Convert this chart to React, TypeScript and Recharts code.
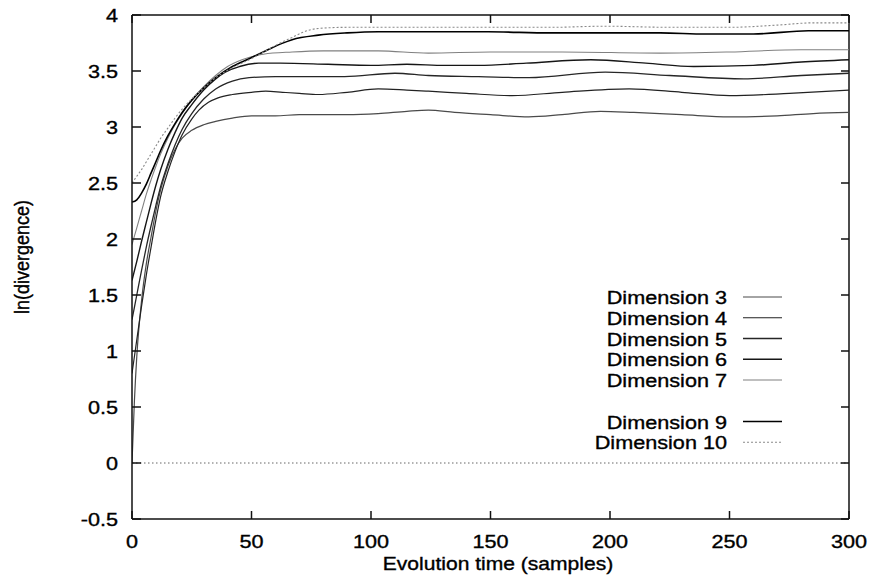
import React from 'react';
import { LineChart, Line, XAxis, YAxis, ReferenceLine } from 'recharts';

// ---- data -------------------------------------------------------------
const xTicks = [0, 50, 100, 150, 200, 250, 300];
const yTicks = [-0.5, 0, 0.5, 1, 1.5, 2, 2.5, 3, 3.5, 4];

// [evolution time (samples), ln(divergence)] for each embedding dimension
const dim3: [number, number][] = [
  [0, 0], [1, 0.55], [2, 0.95], [4, 1.45], [6, 1.78], [8, 2.02], [10, 2.25], [12, 2.44],
  [15, 2.65], [18, 2.8], [21, 2.9], [25, 2.97], [30, 3.02], [35, 3.05], [42, 3.08], [50, 3.1],
  [60, 3.1], [70, 3.11], [80, 3.11], [90, 3.11], [103, 3.12], [115, 3.14], [124, 3.15],
  [135, 3.13], [150, 3.11], [166, 3.09], [180, 3.11], [196, 3.14], [210, 3.13], [230, 3.11],
  [250, 3.09], [270, 3.1], [285, 3.12], [300, 3.13],
];
const dim4: [number, number][] = [
  [0, 0.8], [2, 1.1], [4, 1.4], [6, 1.68], [8, 1.93], [10, 2.17], [12, 2.38], [15, 2.6],
  [18, 2.78], [21, 2.93], [25, 3.07], [28, 3.15], [32, 3.22], [36, 3.26], [42, 3.29], [50, 3.31],
  [56, 3.32], [63, 3.31], [70, 3.3], [78, 3.29], [90, 3.31], [103, 3.34], [115, 3.33],
  [124, 3.32], [140, 3.3], [159, 3.28], [180, 3.31], [208, 3.34], [230, 3.31], [250, 3.28],
  [275, 3.3], [300, 3.33],
];
const dim5: [number, number][] = [
  [0, 1.28], [2, 1.5], [4, 1.72], [6, 1.93], [8, 2.12], [10, 2.3], [12, 2.47], [15, 2.67],
  [18, 2.84], [21, 2.98], [25, 3.12], [30, 3.25], [35, 3.34], [42, 3.41], [49, 3.44], [60, 3.45],
  [75, 3.45], [89, 3.45], [110, 3.48], [124, 3.46], [145, 3.45], [166, 3.44], [198, 3.49],
  [225, 3.46], [256, 3.43], [280, 3.46], [300, 3.48],
];
const dim6: [number, number][] = [
  [0, 1.63], [2, 1.8], [4, 1.98], [6, 2.15], [8, 2.32], [10, 2.48], [12, 2.62], [15, 2.8],
  [18, 2.95], [21, 3.08], [25, 3.2], [30, 3.33], [35, 3.43], [39, 3.49], [45, 3.54], [53, 3.57],
  [62, 3.57], [82, 3.56], [100, 3.55], [115, 3.56], [131, 3.55], [145, 3.55], [165, 3.57],
  [192, 3.6], [215, 3.57], [235, 3.54], [260, 3.55], [280, 3.58], [300, 3.6],
];
const dim7: [number, number][] = [
  [0, 1.95], [2, 2.1], [4, 2.25], [6, 2.4], [8, 2.53], [10, 2.65], [12, 2.76], [15, 2.9],
  [18, 3.02], [21, 3.12], [25, 3.24], [30, 3.36], [35, 3.46], [40, 3.54], [46, 3.6], [55, 3.65],
  [67, 3.67], [80, 3.68], [103, 3.68], [124, 3.66], [150, 3.67], [180, 3.67], [221, 3.66],
  [250, 3.67], [280, 3.69], [300, 3.69],
];
const dim9: [number, number][] = [
  [0, 2.33], [2, 2.35], [4, 2.41], [6, 2.49], [8, 2.59], [10, 2.69], [12, 2.79], [15, 2.92],
  [18, 3.03], [21, 3.13], [25, 3.24], [30, 3.35], [35, 3.44], [42, 3.54], [49, 3.61], [56, 3.68],
  [62, 3.74], [67, 3.78], [78, 3.82], [90, 3.84], [103, 3.85], [124, 3.85], [149, 3.85],
  [175, 3.84], [200, 3.84], [221, 3.84], [240, 3.83], [260, 3.83], [283, 3.86], [300, 3.86],
];
const dim10: [number, number][] = [
  [0, 2.5], [2, 2.56], [4, 2.62], [6, 2.69], [8, 2.76], [10, 2.83], [12, 2.9], [15, 2.99],
  [18, 3.08], [21, 3.16], [25, 3.25], [30, 3.35], [35, 3.44], [42, 3.53], [49, 3.6], [56, 3.68],
  [62, 3.75], [67, 3.8], [72, 3.85], [78, 3.88], [90, 3.89], [103, 3.89], [124, 3.89],
  [150, 3.89], [175, 3.89], [198, 3.9], [225, 3.89], [250, 3.89], [270, 3.91], [285, 3.93],
  [300, 3.93],
];

const seriesNames = [
  'Dimension 3', 'Dimension 4', 'Dimension 5', 'Dimension 6',
  'Dimension 7', 'Dimension 9', 'Dimension 10',
];
const seriesData = [dim3, dim4, dim5, dim6, dim7, dim9, dim10];

// ---- styling ----------------------------------------------------------
const seriesStyle = [
  { stroke: '#4a4a4a', width: 1.2, dash: undefined as string | undefined, row: 0 },
  { stroke: '#222', width: 1.2, dash: undefined, row: 1 },
  { stroke: '#262626', width: 1.3, dash: undefined, row: 2 },
  { stroke: '#161616', width: 1.4, dash: undefined, row: 3 },
  { stroke: '#808080', width: 1.1, dash: undefined, row: 4 },
  { stroke: '#000', width: 1.6, dash: undefined, row: 6 },
  { stroke: '#8a8a8a', width: 1.1, dash: '2 2', row: 7 },
];

const W = 871;
const H = 580;
const PLOT_LEFT = 132;
const PLOT_RIGHT = 849;
const PLOT_TOP = 15;
const PLOT_BOTTOM = 519;
const FONT = '"Liberation Sans", Arial, Helvetica, sans-serif';
const STRETCH = 1.17;
const INK = '#111';

type WideTextProps = {
  x: number;
  y: number;
  anchor: 'start' | 'middle' | 'end';
  size: number;
  rotate?: boolean;
  children: React.ReactNode;
};

// Helvetica-style text, slightly widened and inked
const WideText = ({ x, y, anchor, size, rotate, children }: WideTextProps) => {
  const transform = rotate
    ? `translate(${x},${y}) rotate(-90) scale(1,${STRETCH})`
    : `translate(${x},${y}) scale(${STRETCH},1)`;
  return (
    <text
      transform={transform}
      x={0}
      y={0}
      textAnchor={anchor}
      fontFamily={FONT}
      fontSize={size}
      fill="#000"
      stroke="#000"
      strokeWidth={0.35}
    >
      {children}
    </text>
  );
};

// y tick: label on the left, inward marks on both vertical borders
const YTick = (props: any) => {
  const { y, payload } = props;
  return (
    <g>
      <line x1={PLOT_LEFT} x2={PLOT_LEFT + 9} y1={y} y2={y} stroke={INK} strokeWidth={1.5} />
      <line x1={PLOT_RIGHT - 8} x2={PLOT_RIGHT} y1={y} y2={y} stroke={INK} strokeWidth={1.5} />
      <WideText x={PLOT_LEFT - 14} y={y + 6.5} anchor="end" size={18.5}>
        {String(payload.value)}
      </WideText>
    </g>
  );
};

// x tick: label below, inward marks on both horizontal borders
const XTick = (props: any) => {
  const { x, payload } = props;
  return (
    <g>
      <line x1={x} x2={x} y1={PLOT_BOTTOM} y2={PLOT_BOTTOM - 8} stroke={INK} strokeWidth={1.5} />
      <line x1={x} x2={x} y1={PLOT_TOP} y2={PLOT_TOP + 8} stroke={INK} strokeWidth={1.5} />
      <WideText x={x} y={548} anchor="middle" size={18.5}>
        {String(payload.value)}
      </WideText>
    </g>
  );
};

const LEGEND_TEXT_RIGHT = 727;
const LEGEND_LINE_X1 = 743;
const LEGEND_LINE_X2 = 782;
const LEGEND_FIRST_BASELINE = 304;
const LEGEND_ROW = 20.75;

const LegendBlock = () => (
  <svg width={W} height={H} style={{ position: 'absolute', left: 0, top: 0, pointerEvents: 'none' }}>
    {seriesNames.map((name, i) => {
      const st = seriesStyle[i];
      const base = LEGEND_FIRST_BASELINE + st.row * LEGEND_ROW;
      return (
        <g key={name}>
          <WideText x={LEGEND_TEXT_RIGHT} y={base} anchor="end" size={18.5}>
            {name}
          </WideText>
          <line
            x1={LEGEND_LINE_X1}
            x2={LEGEND_LINE_X2}
            y1={base - 7}
            y2={base - 7}
            stroke={st.stroke}
            strokeWidth={st.width}
            strokeDasharray={st.dash}
          />
        </g>
      );
    })}
    <WideText x={498} y={570} anchor="middle" size={18}>
      Evolution time (samples)
    </WideText>
    <WideText x={29} y={257} anchor="middle" size={18} rotate>
      ln(divergence)
    </WideText>
  </svg>
);

export default function App() {
  const lines = seriesData.map((pairs) => pairs.map(([t, v]) => ({ t, v })));
  return (
    <div style={{ position: 'absolute', left: 0, top: 0, width: W, height: H, background: '#fff' }}>
      <LineChart
        width={W}
        height={H}
        margin={{ top: PLOT_TOP, right: W - PLOT_RIGHT, bottom: 0, left: 0 }}
      >
        <XAxis
          type="number"
          dataKey="t"
          domain={[0, 300]}
          ticks={xTicks}
          interval={0}
          allowDataOverflow
          height={H - PLOT_BOTTOM}
          tickLine={false}
          tickSize={0}
          tickMargin={0}
          axisLine={{ stroke: INK, strokeWidth: 1.5 }}
          tick={<XTick />}
        />
        <YAxis
          type="number"
          domain={[-0.5, 4]}
          ticks={yTicks}
          interval={0}
          allowDataOverflow
          width={PLOT_LEFT}
          tickLine={false}
          tickSize={0}
          tickMargin={0}
          axisLine={{ stroke: INK, strokeWidth: 1.5 }}
          tick={<YTick />}
        />
        <ReferenceLine y={4} stroke={INK} strokeWidth={1.5} />
        <ReferenceLine x={300} stroke={INK} strokeWidth={1.5} />
        <ReferenceLine y={0} stroke="#666" strokeWidth={1} strokeDasharray="1.5 2.5" />
        {lines.map((d, i) => (
          <Line
            key={seriesNames[i]}
            name={seriesNames[i]}
            data={d}
            dataKey="v"
            type="monotone"
            dot={false}
            activeDot={false}
            stroke={seriesStyle[i].stroke}
            strokeWidth={seriesStyle[i].width}
            strokeDasharray={seriesStyle[i].dash}
            isAnimationActive={false}
          />
        ))}
      </LineChart>
      <LegendBlock />
    </div>
  );
}
